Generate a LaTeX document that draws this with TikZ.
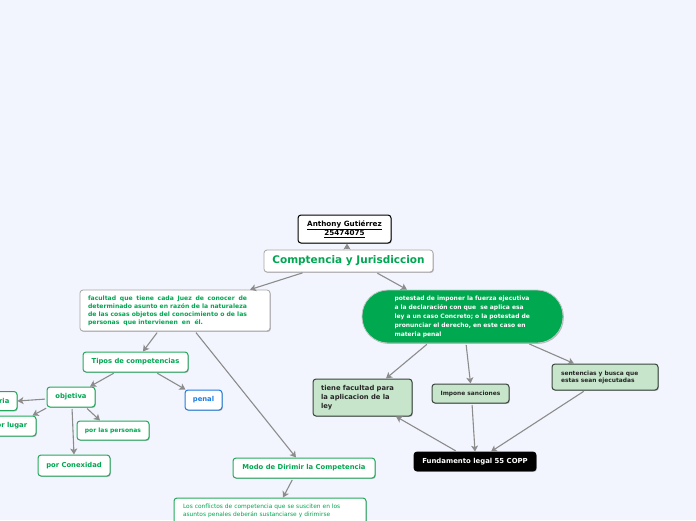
\documentclass[tikz,border=0pt]{standalone}
\usepackage{fontspec}
\setmainfont{DejaVu Sans}
\usetikzlibrary{arrows.meta,shadows}
\definecolor{bg}{HTML}{F3F5FE}
\definecolor{txtgreen}{HTML}{00A651}
\definecolor{boxgreen}{HTML}{22A95B}
\definecolor{edgegray}{HTML}{8C8C8C}
\definecolor{potgreen}{HTML}{00A84F}
\definecolor{lightgreen}{HTML}{C6E5CB}
\definecolor{darkborder}{HTML}{3A463D}
\definecolor{penalblue}{HTML}{1C7CE0}
\newcommand\fsz[2]{\fontsize{#1}{#2}\selectfont}
\newcommand\jline[1]{\leavevmode\hbox to 159pt{#1}}
\tikzset{
  shad/.style={drop shadow={shadow xshift=0.8pt,shadow yshift=-0.9pt,opacity=0.25,fill=black}},
  base/.style={rectangle,rounded corners=3pt,inner sep=0pt,shad},
  greenbox/.style={base,draw=boxgreen,line width=1pt,fill=white,text=txtgreen,font=\bfseries\fsz{6.8}{8}},
  graybox/.style={base,draw=gray!70,line width=0.8pt,fill=white},
  lgbox/.style={base,draw=darkborder,line width=1pt,fill=lightgreen,text=black!85,align=left},
  conn/.style={draw=edgegray,line width=1.1pt,-{Stealth[length=6pt,width=7pt,inset=1.5pt]},shorten <=1.5pt}
}
\begin{document}
\begin{tikzpicture}[x=1pt,y=-1pt]
\fill[bg] (0,0) rectangle (696,520);
\useasboundingbox (0,0) rectangle (696,520);
\clip (0,0) rectangle (696,520);

% nodes
\node[base,draw=black,line width=1pt,fill=white,minimum width=93pt,minimum height=28pt,align=center,font=\bfseries\fsz{7.2}{9}]
  (author) at (344.5,229) {\underline{Anthony Gutiérrez}\\\underline{25474075}};
\node[graybox,minimum width=169pt,minimum height=22pt,text=txtgreen,font=\bfseries\fsz{10.5}{12}]
  (main) at (348.5,261) {Comptencia y Jurisdiccion};
\node[graybox,minimum width=190pt,minimum height=41pt,text=txtgreen,text width=174pt,align=left,font=\bfseries\fsz{6.1}{8}]
  (facultad) at (175,310.5) {\jline{facultad\hfill que\hfill tiene\hfill cada\hfill Juez\hfill de\hfill conocer\hfill de}\\
  \jline{determinado\hfill asunto\hfill en razón\hfill de\hfill la\hfill naturaleza}\\
  \jline{de\hfill las\hfill cosas\hfill objetos\hfill del\hfill conocimiento\hfill o\hfill de\hfill las}\\
  personas\ \ que intervienen\ \ en\ \ él.};
\node[rectangle,rounded corners=26pt,draw=gray!45,line width=0.8pt,fill=potgreen,shad,inner sep=0pt,
  minimum width=201pt,minimum height=53pt,text=white,text width=136pt,align=left,font=\bfseries\fsz{6}{9}]
  (potestad) at (462.5,316.5) {potestad de imponer la fuerza ejecutiva\\
  a la declaración con que \ se aplica esa\\
  ley a un caso Concreto; o la potestad de\\
  pronunciar el derecho, en este caso en\\
  materia penal};
\node[greenbox,minimum width=105pt,minimum height=20pt] (tipos) at (135.5,362) {Tipos de competencias};
\node[greenbox,minimum width=48pt,minimum height=20pt] (objetiva) at (71,397) {objetiva};
\node[base,draw=penalblue,line width=1pt,fill=white,text=penalblue,font=\bfseries\fsz{6.8}{8},minimum width=37pt,minimum height=20pt]
  (penal) at (203.5,400) {penal};
\node[greenbox,minimum width=45pt,minimum height=19pt] (materia) at (-5.5,401) {materia};
\node[greenbox,minimum width=53pt,minimum height=20pt] (lugar) at (9.5,426) {por lugar};
\node[greenbox,minimum width=72pt,minimum height=19pt,font=\bfseries\fsz{6}{8}] (personas) at (113,430.5) {por las personas};
\node[greenbox,minimum width=72pt,minimum height=21pt] (conexidad) at (74,465.5) {por Conexidad};
\node[greenbox,minimum width=142pt,minimum height=20pt] (modo) at (304,468) {Modo de Dirimir la Competencia};
\node[greenbox,minimum width=192pt,minimum height=26pt,text width=174pt,align=left,font=\fsz{5.9}{8}]
  (conflictos) at (270,511) {Los conflictos de competencia que se susciten en los\\
  asuntos penales deberán sustanciarse y dirimirse};
\node[lgbox,minimum width=99pt,minimum height=37pt,text width=83pt,font=\bfseries\fsz{6.8}{8.7}]
  (tiene) at (362.5,397.5) {tiene facultad para\\la aplicacion de la\\ley};
\node[lgbox,minimum width=77pt,minimum height=19pt,align=center,font=\bfseries\fsz{5.9}{7}]
  (impone) at (470.5,393.5) {Impone sanciones};
\node[lgbox,minimum width=106pt,minimum height=26pt,text width=88pt,font=\bfseries\fsz{5.9}{7}]
  (sentencias) at (605,377) {sentencias y busca que\\estas sean ejecutadas};
\node[base,draw=black,line width=0.8pt,fill=black,text=white,font=\bfseries\fsz{6.9}{8},minimum width=122pt,minimum height=19pt]
  (fundamento) at (475,461.5) {Fundamento legal 55 COPP};

% connectors
\draw[conn] ([xshift=-1.5pt]main.north) -- ([xshift=2.5pt]author.south);
\draw[conn] ([xshift=-44.5pt]main.south) -- ([xshift=75pt]facultad.north);
\draw[conn] ([xshift=27.5pt]main.south) -- ([xshift=-55.5pt]potestad.north);
\draw[conn] ([xshift=-17pt]facultad.south) -- ([xshift=7.5pt]tipos.north);
\draw[conn] ([xshift=20pt]facultad.south) -- ([xshift=-8pt]modo.north);
\draw[conn] ([xshift=-20.5pt]tipos.south) -- ([xshift=19pt]objetiva.north);
\draw[conn] ([xshift=20.5pt]tipos.south) -- ([xshift=1pt]penal.north west);
\draw[conn] ([yshift=-2pt]objetiva.west) -- (materia.east);
\draw[conn] ([xshift=1pt]objetiva.south west) -- ([xshift=-4pt]lugar.north east);
\draw[conn] ([xshift=15pt]objetiva.south) -- ([xshift=-13pt]personas.north);
\draw[conn] ([xshift=1pt]objetiva.south) -- (conexidad.north);
\draw[conn] ([xshift=-11pt]modo.south) -- ([xshift=13pt]conflictos.north);
\draw[conn] ([xshift=-34.5pt]potestad.south) -- ([xshift=23.5pt]tiene.north);
\draw[conn] ([xshift=3.5pt]potestad.south) -- (impone.north);
\draw[conn] ([xshift=65.5pt]potestad.south) -- ([xshift=-31pt]sentencias.north);
\draw[conn] ([xshift=-18pt]fundamento.north) -- ([xshift=33.5pt]tiene.south);
\draw[conn] ([xshift=1.5pt]impone.south) -- (fundamento.north);
\draw[conn] ([xshift=-20pt]sentencias.south) -- ([xshift=16pt]fundamento.north);
\end{tikzpicture}
\end{document}
